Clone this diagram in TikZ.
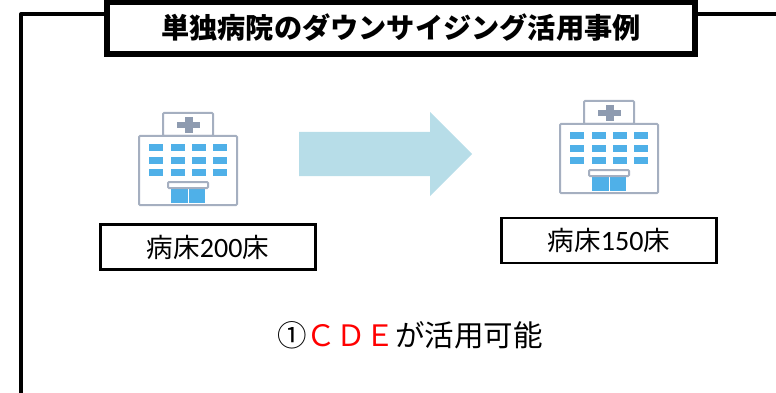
\documentclass[tikz,border=0pt]{standalone}
\usepackage{fontspec}
\setmainfont{Carlito}
\newfontfamily\jpfont{Noto Sans CJK JP}
\usepackage{xcolor}
\definecolor{wingray}{HTML}{8E9BB0}
\definecolor{winblue}{HTML}{4FB0E8}
\definecolor{arrowblue}{HTML}{B7DDE8}
\usetikzlibrary{positioning}
\newcommand{\bedjp}[1]{{\jpfont\fontsize{26.5}{30}\selectfont #1}}
\tikzset{
  every node/.style={inner sep=0pt},
  frameline/.style={draw=black,line width=4pt},
  titlebox/.style={
    draw=black,
    fill=white,
    line width=6pt,
    minimum width=588pt,
    minimum height=52pt,
    font=\jpfont\fontsize{28.2}{32}\selectfont\bfseries
  },
  bedbox/.style={
    draw=black,
    fill=white,
    line width=2.2pt,
    minimum width=215pt,
    minimum height=45pt,
    font=\fontsize{28}{30}\selectfont
  },
  wall/.style={draw=wingray!80,fill=white,line width=2pt,rounded corners=1pt},
  pane/.style={fill=winblue},
  hospital/.pic={
    % Building and sign
    \draw[wall] (24,-23) rectangle (74,0);
    \draw[wall] (0,0) rectangle (98,69);
    % Cross
    \fill[wingray] (46,-19) rectangle (54,-3);
    \fill[wingray] (38,-14) rectangle (61,-8);
    % Windows
    \foreach \wx in {10,32,53,74}
      \foreach \wy in {8,21,33}
        \fill[winblue] (\wx,\wy) rectangle ++(14,7);
    % Door
    \fill[pane] (32,52) rectangle (66,67);
    \draw[white,line width=1pt] (49,52) -- (49,67);
    \draw[wall] (29,46) rectangle (69,52);
  }
}

\begin{document}
\begin{tikzpicture}[x=1pt,y=-1pt]
  \useasboundingbox (0,0) rectangle (776,393);

  % Frame
  \coordinate (framebottom) at (21,393);
  \coordinate (frameleft) at (21,14);
  \coordinate (frameright) at (776,14);
  \node[titlebox] (title) at (401,28) {単独病院のダウンサイジング活用事例};
  \draw[frameline,line join=round] (framebottom) -- (frameleft) -- (frameleft -| title.west);
  \draw[frameline] (frameright -| title.east) -- (frameright);

  % Hospitals
  \pic at (139,136) {hospital};
  \pic at (560,124) {hospital};

  % Arrow
  \fill[arrowblue] (299,132) -- (430,132) -- (430,112) -- (472,154) -- (430,196) -- (430,176) -- (299,176) -- cycle;

  % Bed counts
  \node[bedbox] (before) at (208,247) {\bedjp{病床}200\bedjp{床}};
  \node[bedbox] (after) at (609,240.5) {\bedjp{病床}150\bedjp{床}};

  % Conclusion
  \node[font=\jpfont\fontsize{29.5}{34}\selectfont] (result) at (410,335) {①\textcolor{red}{ＣＤＥ}が活用可能};
\end{tikzpicture}
\end{document}
